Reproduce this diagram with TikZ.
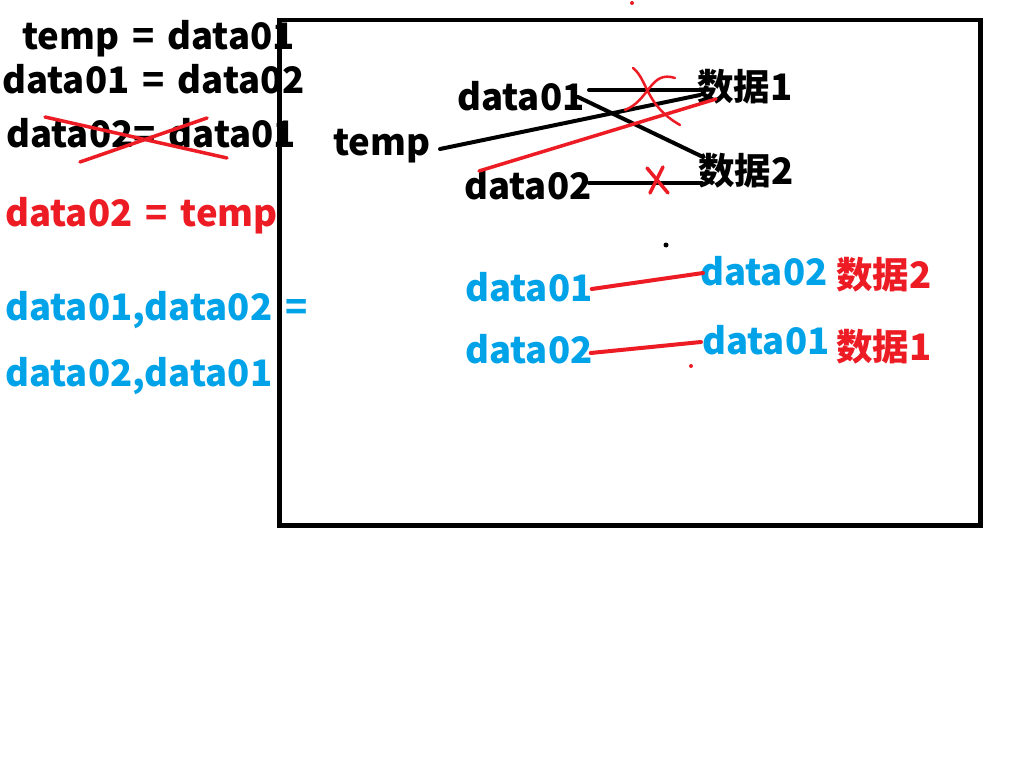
\documentclass[tikz,border=0pt]{standalone}
\usepackage{fontspec}
\setmainfont{Noto Sans CJK SC}
\definecolor{pred}{HTML}{ED1C24}
\definecolor{pblue}{HTML}{00A2E8}
\newcommand{\diagfont}{\bfseries\fontsize{36.5}{40}\selectfont\spaceskip=13pt plus 0pt minus 0pt\relax}
\begin{document}
\begin{tikzpicture}[x=1pt,y=-1pt,
  txt/.style={anchor=west,inner sep=0pt,font=\diagfont},
  ln/.style={line width=4pt,line cap=round},
  rl/.style={ln,draw=pred},
  bl/.style={ln,draw=black}]
\useasboundingbox[fill=white] (0,0) rectangle (1024,768);
% left column
\node[txt] (l1) at (22,39) {temp = data01};
\node[txt] (l2) at (2,79) {data01 = data02};
\node[txt] (l3) at (6,133) {data02= data01};
\node[txt,text=pred] (l4) at (5,216) {data02 = temp};
\node[txt,text=pblue] (l5) at (5,310) {data01,data02 =};
\node[txt,text=pblue] (l6) at (5,376) {data02,data01};
\draw[rl,line width=3.5pt] (45,117) -- (227,158);
\draw[rl,line width=3.5pt] (80,162) -- (207,118);
% box
\node[draw=black,line width=4.5pt,minimum width=701pt,minimum height=505pt,inner sep=0pt,anchor=north west] (box) at (277,18) {};
% upper diagram
\node[txt] (a1) at (457,96) {data01};
\node[txt] (at) at (333,146) {temp};
\node[txt] (a2) at (464,185) {data02};
\node[txt] (s1) at (697,87) {数据1};
\node[txt] (s2) at (698,171) {数据2};
\coordinate (a1r) at (589,90);
\coordinate (a1d) at (578,97);
\coordinate (atr) at (440,149);
\coordinate (a2r) at (589,183);
\coordinate (a2u) at (479,171);
\coordinate (s1l) at (700,90);
\coordinate (s1t) at (700,95);
\coordinate (s1r) at (716,99);
\coordinate (s2l) at (703,157);
\coordinate (s2m) at (702,183);
\draw[bl] (a1r) -- (s1l);
\draw[bl] (a1d) -- (s2l);
\draw[bl] (atr) -- (s1t);
\draw[bl] (a2r) -- (s2m);
\draw[rl,line width=3.5pt] (a2u) -- (s1r);
% red crosses
\draw[rl,line width=2.5pt] (633,68) .. controls (648,80) and (645,105) .. (680,125);
\draw[rl,line width=2.5pt] (625,110) .. controls (650,100) and (650,70) .. (675,78);
\draw[rl,line width=3.5pt] (647,168) -- (668,193);
\draw[rl,line width=3.5pt] (663,167) -- (650,193);
% dots
\fill[pred] (632,3) circle (2pt);
\fill[black] (666,245) circle (2.5pt);
\fill[pred] (691,366) circle (2pt);
% lower diagram
\node[txt,text=pblue] (b1) at (465,287) {data01};
\node[txt,text=pblue] (c1) at (700,271) {data02};
\node[txt,text=pred] (d1) at (836,275) {数据2};
\node[txt,text=pblue] (b2) at (465,349) {data02};
\node[txt,text=pblue] (c2) at (702,340) {data01};
\node[txt,text=pred] (d2) at (836,347) {数据1};
\draw[rl] ([xshift=-1pt,yshift=-2pt]b1.east) -- ([xshift=3pt,yshift=-2pt]c1.west);
\draw[rl] ([xshift=-2pt,yshift=-4pt]b2.east) -- ([xshift=-1pt,yshift=-2pt]c2.west);
\end{tikzpicture}
\end{document}
